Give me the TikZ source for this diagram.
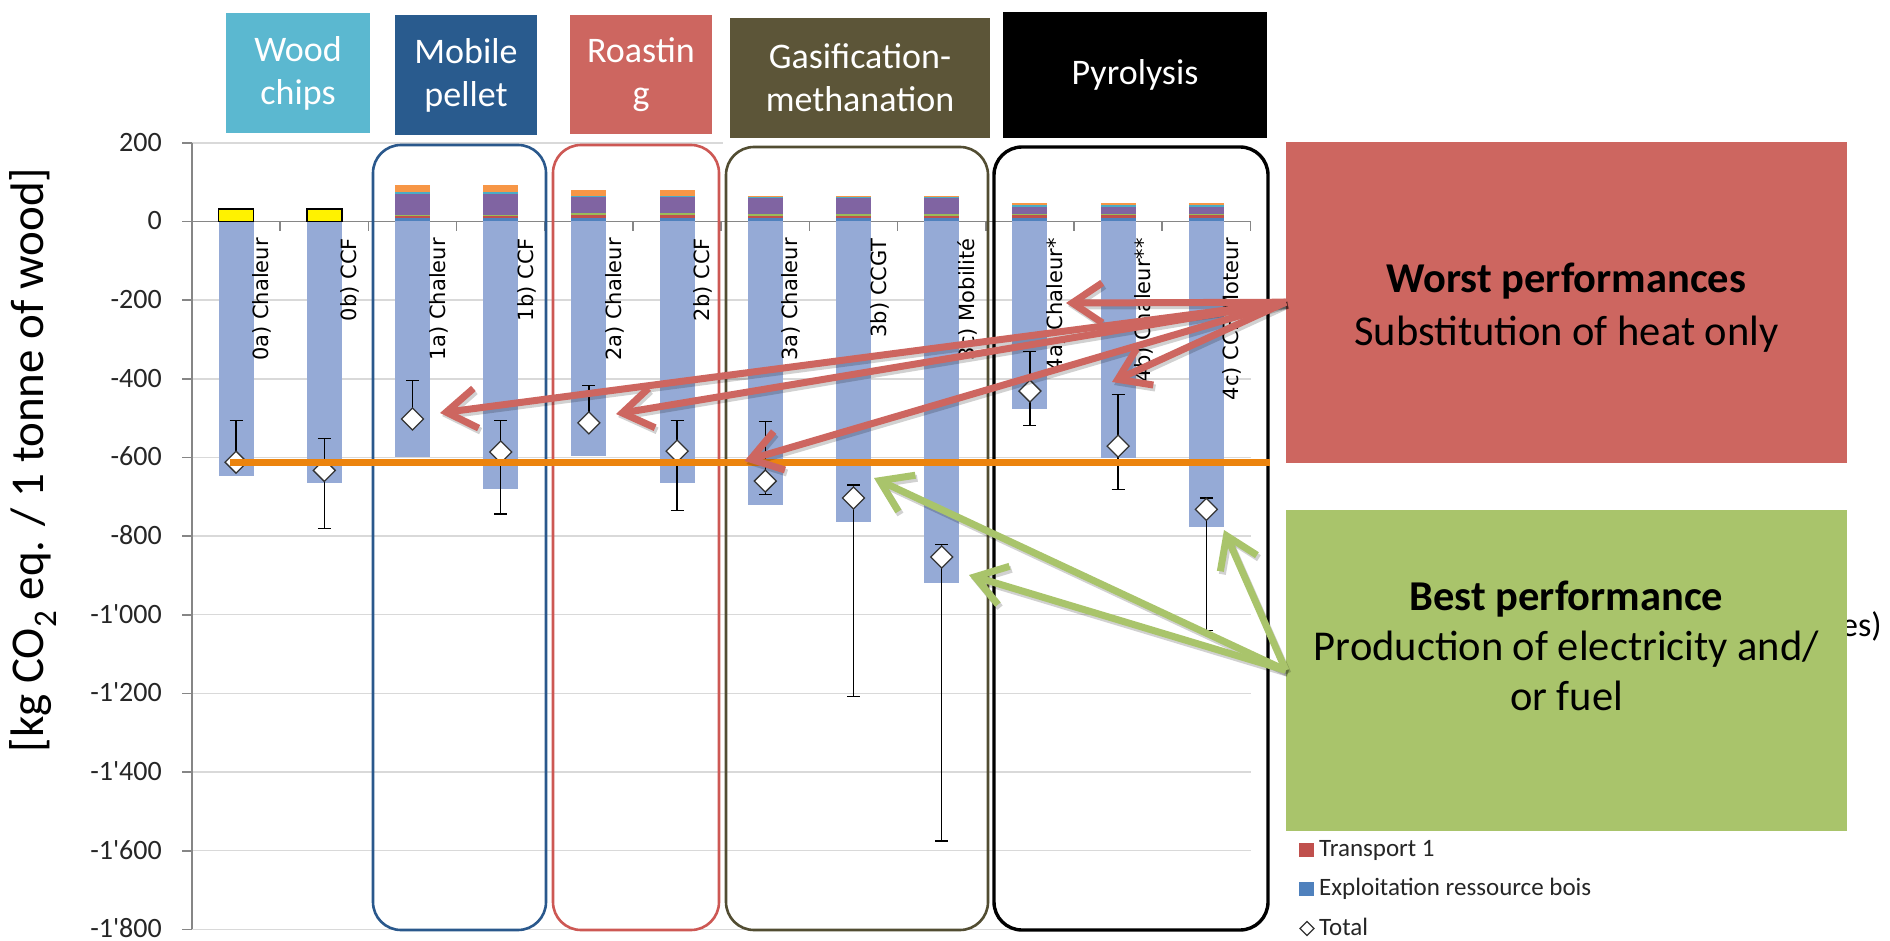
\documentclass[tikz,border=0pt]{standalone}
\usepackage{fontspec}
\setmainfont{Carlito}
\newfontfamily\catfont{DejaVu Sans}
\usetikzlibrary{arrows.meta,shadows}

\definecolor{barblue}{RGB}{149,170,214}
\definecolor{segblue}{RGB}{79,129,189}
\definecolor{segred}{RGB}{192,80,77}
\definecolor{seggreen}{RGB}{155,187,89}
\definecolor{segpurple}{RGB}{128,100,162}
\definecolor{segteal}{RGB}{75,172,198}
\definecolor{segorange}{RGB}{247,150,70}
\definecolor{gridgray}{RGB}{217,217,217}
\definecolor{axisgray}{RGB}{134,134,134}
\definecolor{woodcol}{RGB}{91,184,208}
\definecolor{pelletcol}{RGB}{41,91,142}
\definecolor{roastcol}{RGB}{205,102,96}
\definecolor{gascol}{RGB}{92,85,56}
\definecolor{pelletedge}{RGB}{42,88,140}
\definecolor{roastedge}{RGB}{205,88,84}
\definecolor{gasedge}{RGB}{82,77,50}
\definecolor{worstcol}{RGB}{205,102,96}
\definecolor{bestcol}{RGB}{169,196,107}
\definecolor{refline}{RGB}{236,132,14}

\tikzset{
  gridline/.style={draw=gridgray, line width=1.4pt},
  axisline/.style={draw=axisgray, line width=1.6pt},
  ticklabel/.style={anchor=base east, inner sep=0pt, font=\fontsize{28}{32}\selectfont, text=black!85},
  catlabel/.style={anchor=east, rotate=90, inner sep=0pt, font=\catfont\fontsize{21}{25}\selectfont},
  headbox/.style={draw=white, line width=7pt, inner sep=0pt, align=center, text=white,
    font=\fontsize{36}{43}\selectfont,
    drop shadow={shadow xshift=2pt, shadow yshift=-4pt, opacity=0.22}},
  groupbox/.style={rounded corners=28pt, line width=2.6pt},
  errbar/.style={draw=black, line width=1.3pt},
  totalmark/.style={draw=black!80, fill=white, line width=1.3pt},
  calloutbox/.style={inner sep=0pt},
  callouttext/.style={anchor=base, inner sep=0pt, font=\fontsize{42.5}{52}\selectfont},
  arrowbase/.style={line width=7pt, -{Straight Barb[length=30pt, width=40pt]}},
  worstarrow/.style={arrowbase, draw=worstcol},
  bestarrow/.style={arrowbase, draw=bestcol},
  arrowshade/.style={arrowbase, draw=black, opacity=0.18, transform canvas={xshift=2pt, yshift=-3pt}},
  legendtext/.style={anchor=base west, inner sep=0pt, font=\fontsize{25}{30}\selectfont, text=black!85},
}

\begin{document}
\begin{tikzpicture}[x=1pt, y=-1pt,
  declare function={vy(\v)=221.5-0.3933*\v; cx(\i)=236.1+88.2*\i;}]
\useasboundingbox (0,0) rectangle (1890,941);
\fill[white] (0,0) rectangle (1890,941);

% horizontal grid
\foreach \v in {200,-200,-400,-600,-800,-1000,-1200,-1400,-1600,-1800}
  \draw[gridline] (192,{vy(\v)}) -- (1251,{vy(\v)});

% value axis with tick marks and labels
\draw[axisline] (192,{vy(200)}) -- (192,{vy(-1800)});
\foreach \v/\t in {200/200, 0/0, -200/-200, -400/-400, -600/-600, -800/-800,
    -1000/-1\textquotesingle000, -1200/-1\textquotesingle200, -1400/-1\textquotesingle400,
    -1600/-1\textquotesingle600, -1800/-1\textquotesingle800} {
  \draw[axisline] (182,{vy(\v)}) -- (192,{vy(\v)});
  \node[ticklabel] (tick\v) at (162,{vy(\v)+8.3}) {\t};
}

% category axis
\draw[axisline] (192,{vy(0)}) -- (1251,{vy(0)});
\foreach \k in {1,...,12}
  \draw[axisline] ({192+88.2*\k},{vy(0)}) -- ++(0,10);

\node[anchor=center, rotate=90, inner sep=0pt, font=\fontsize{47}{54}\selectfont]
  (ytitle) at (33,460) {[kg CO\textsubscript{2} eq. / 1 tonne of wood]};

% process groups
\draw[groupbox, draw=pelletedge] (373,145) rectangle (546,930);
\draw[groupbox, draw=roastedge] (553,145) rectangle (719,930);
\draw[groupbox, draw=gasedge] (726,147) rectangle (988,930);
\draw[groupbox, draw=black, line width=3.4pt] (994,147) rectangle (1268,930);

% credits (negative part of each bar)
\foreach \i/\b in {0/-646, 1/-664, 2/-600, 3/-681, 4/-597, 5/-666,
                   6/-722, 7/-764, 8/-919, 9/-478, 10/-602, 11/-776}
  \fill[barblue] ({cx(\i)-17.5},{vy(0)}) rectangle ({cx(\i)+17.5},{vy(\b)});

% wood chips: single positive contribution
\foreach \i in {0,1}
  \draw[fill=yellow, draw=black, line width=1.5pt]
    ({cx(\i)-17.5},{vy(0)}) rectangle ({cx(\i)+17.5},{vy(32)});

% stacked positive contributions
\foreach \i/\qa/\qb/\qc/\qd/\qe/\qf in {
    2/9.3/4.2/4.2/53.4/4.2/17, 3/9.3/4.2/4.2/53.4/4.2/17,
    4/10/6/5/40.7/2.5/16, 5/10/6/5/40.7/2.5/16,
    6/10/5/5/39/3.4/2.6, 7/10/5/5/39/3.4/2.6, 8/10/5/5/39/3.4/2.6,
    9/9.3/6/5/17.8/5/3.4, 10/9.3/6/5/17.8/5/3.4, 11/9.3/6/5/17.8/5/3.4} {
  \pgfmathsetmacro\ka{\qa}
  \pgfmathsetmacro\kb{\ka+\qb}
  \pgfmathsetmacro\kc{\kb+\qc}
  \pgfmathsetmacro\kd{\kc+\qd}
  \pgfmathsetmacro\ke{\kd+\qe}
  \pgfmathsetmacro\kf{\ke+\qf}
  \pgfmathsetmacro\segL{cx(\i)-17.5}
  \pgfmathsetmacro\segR{cx(\i)+17.5}
  \fill[segblue]   (\segL,{vy(0)})   rectangle (\segR,{vy(\ka)});
  \fill[segred]    (\segL,{vy(\ka)}) rectangle (\segR,{vy(\kb)});
  \fill[seggreen]  (\segL,{vy(\kb)}) rectangle (\segR,{vy(\kc)});
  \fill[segpurple] (\segL,{vy(\kc)}) rectangle (\segR,{vy(\kd)});
  \fill[segteal]   (\segL,{vy(\kd)}) rectangle (\segR,{vy(\ke)});
  \fill[segorange] (\segL,{vy(\ke)}) rectangle (\segR,{vy(\kf)});
}

% category names
\foreach \i/\lab in {0/0a) Chaleur, 1/0b) CCF, 2/1a) Chaleur, 3/1b) CCF,
    4/2a) Chaleur, 5/2b) CCF, 6/3a) Chaleur, 7/3b) CCGT, 8/3c) Mobilité,
    9/4a) Chaleur*, 10/4b) Chaleur**, 11/4c) CCF Moteur}
  \node[catlabel] (cat\i) at ({cx(\i)+26},238) {\lab};

% uncertainty ranges
\foreach \i/\t/\b/\c in {0/-506/-612/0, 1/-551/-781/1, 2/-404/-502/0, 3/-506/-744/1,
    4/-417/-512/0, 5/-506/-735/1, 6/-508/-694/1, 7/-670/-1208/1, 8/-821/-1575/1,
    9/-330/-519/1, 10/-440/-681/1, 11/-703/-1040/1} {
  \draw[errbar] ({cx(\i)},{vy(\t)}) -- ({cx(\i)},{vy(\b)});
  \draw[errbar] ({cx(\i)-6.5},{vy(\t)}) -- ({cx(\i)+6.5},{vy(\t)});
  \ifnum\c=1 \draw[errbar] ({cx(\i)-6.5},{vy(\b)}) -- ({cx(\i)+6.5},{vy(\b)}); \fi
}

% totals
\foreach \i/\d in {0/-612, 1/-633, 2/-502, 3/-586, 4/-512, 5/-584,
                   6/-660, 7/-703, 8/-853, 9/-431, 10/-571, 11/-732}
  \draw[totalmark] ({cx(\i)},{vy(\d)-11}) -- ++(11,11) -- ++(-11,11) -- ++(-11,-11) -- cycle;

% reference level
\coordinate (refA) at (230,{vy(-613)});
\coordinate (refB) at (1270,{vy(-613)});
\draw[draw=refline, line width=6.7pt] (refA) -- (refB);

% process headers
\node[headbox, fill=woodcol, minimum width=151, minimum height=127] (hwood) at (298,73) {Wood\\chips};
\node[headbox, fill=pelletcol, minimum width=149, minimum height=127] (hpellet) at (466,75) {Mobile\\pellet};
\node[headbox, fill=roastcol, minimum width=149, minimum height=126] (hroast) at (641,74.5) {Roastin\\g};
\node[headbox, fill=gascol, minimum width=267, minimum height=127] (hgas) at (860,78) {Gasification-\\methanation};
\node[headbox, fill=black, minimum width=271, minimum height=133] (hpyro) at (1135,75) {Pyrolysis};

% legend
\fill[segred] (1299,843) rectangle (1314,857);
\node[legendtext] (legtr) at (1319,856) {Transport 1};
\fill[segblue] (1299,882) rectangle (1314,896);
\node[legendtext] (legex) at (1319,895) {Exploitation ressource bois};
\draw[draw=black!80, line width=1.3pt] (1307,921.5) -- ++(7,7) -- ++(-7,7) -- ++(-7,-7) -- cycle;
\node[legendtext] (legto) at (1319,935) {Total};
\node[anchor=base west, inner sep=0pt, font=\fontsize{34}{40}\selectfont] (legcut) at (1841,636) {es)};

% call-outs
\node[calloutbox, fill=worstcol, minimum width=561, minimum height=321] (worst) at (1566.5,302.2) {};
\node[callouttext] (worstA) at (1566.5,293) {\textbf{Worst performances}};
\node[callouttext] (worstB) at (1566.5,345) {Substitution of heat only};

\node[calloutbox, fill=bestcol, minimum width=561, minimum height=321] (best) at (1566.5,670.3) {};
\node[callouttext] (bestA) at (1566.5,610) {\textbf{Best performance}};
\node[callouttext] (bestB) at (1566.5,660) {Production of electricity and/};
\node[callouttext] (bestC) at (1566.5,710) {or fuel};

% arrow targets
\coordinate (t1a) at (440,413);
\coordinate (t2a) at (616,414);
\coordinate (t3a) at (744.5,461);
\coordinate (t4a) at (1066,303);
\coordinate (t4b) at (1112,382);
\coordinate (g3b) at (874,478);
\coordinate (g3c) at (969,575);
\coordinate (g4c) at (1224,530);

\foreach \tg in {t1a,t2a,t3a,t4a,t4b}
  \draw[arrowshade] (worst.west) -- (\tg);
\foreach \tg in {g3b,g3c,g4c}
  \draw[arrowshade] (best.west) -- (\tg);
\foreach \tg in {t1a,t2a,t3a,t4a,t4b}
  \draw[worstarrow] (worst.west) -- (\tg);
\foreach \tg in {g3b,g3c,g4c}
  \draw[bestarrow] (best.west) -- (\tg);
\end{tikzpicture}
\end{document}
